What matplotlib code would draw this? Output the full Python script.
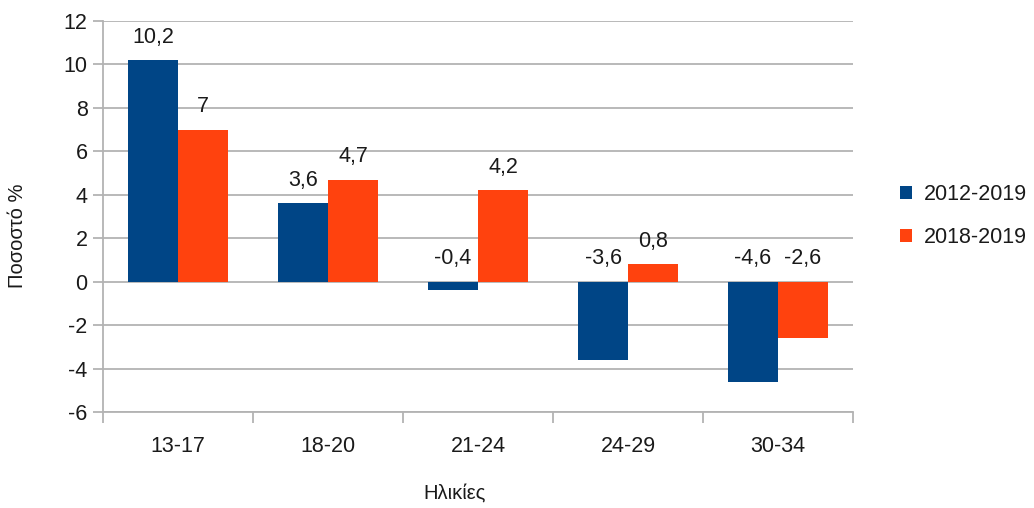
import matplotlib
matplotlib.use("Agg")
import matplotlib.pyplot as plt
import numpy as np

categories = ["13-17", "18-20", "21-24", "24-29", "30-34"]
series_2012_2019 = [10.2, 3.6, -0.4, -3.6, -4.6]
series_2018_2019 = [7.0, 4.7, 4.2, 0.8, -2.6]
series_names = ["2012-2019", "2018-2019"]
yticks = [-6, -4, -2, 0, 2, 4, 6, 8, 10, 12]

plt.rcParams['font.family'] = ['Liberation Sans', 'DejaVu Sans']
plt.rcParams['axes.unicode_minus'] = False
FS = 15.5
grid_c = "#b3b3b3"
colors = ["#004586", "#ff420e"]

fig = plt.figure(figsize=(10.34, 5.08), dpi=100)
ax = fig.add_axes([103/1034, 1-412/508, 750/1034, (412-21)/508])

x = np.arange(len(categories))
w = 1/3
for i, (vals, c, name) in enumerate(zip([series_2012_2019, series_2018_2019], colors, series_names)):
    pos = x + (i - 0.5) * w
    ax.bar(pos, vals, width=w, color=c, label=name, zorder=3)
    for p, v in zip(pos, vals):
        txt = f"{v:g}".replace(".", ",")
        ax.annotate(txt, (p, max(v, 0)), xytext=(0, 9), textcoords="offset points",
                    ha="center", va="bottom", fontsize=FS, color="#1a1a1a")

ax.set_xlim(-0.5, len(categories) - 0.5)
ax.set_ylim(-6, 12)
ax.set_yticks(yticks)
ax.set_yticklabels([str(t) for t in yticks])
ax.yaxis.grid(True, color=grid_c, linewidth=1.3, zorder=0)
ax.set_axisbelow(True)

ax.set_xticks(x)
ax.set_xticklabels(categories)
ax.set_xticks(np.arange(len(categories) + 1) - 0.5, minor=True)
ax.tick_params(axis="x", which="major", length=0, pad=17, labelsize=FS, colors="#1a1a1a")
ax.tick_params(axis="x", which="minor", length=8, width=1.3, color=grid_c)
ax.tick_params(axis="y", length=7, width=1.3, color=grid_c, pad=4, labelsize=FS, labelcolor="#1a1a1a")

for s in ["top", "right"]:
    ax.spines[s].set_visible(False)
for s in ["left", "bottom"]:
    ax.spines[s].set_color(grid_c)
    ax.spines[s].set_linewidth(1.3)

fig.text(18/1034, 1-236/508, "Ποσοστό %", rotation=90, ha="center", va="center", fontsize=FS-1, color="#1a1a1a")
fig.text(455/1034, 1-493/508, "Ηλικίες", ha="center", va="center", fontsize=FS-1, color="#1a1a1a")

leg = fig.legend(loc="center left", bbox_to_anchor=(900/1034, 1-216/508), frameon=False,
                 fontsize=FS, handlelength=0.55, handleheight=0.55, handletextpad=0.55,
                 labelspacing=1.0, borderpad=0, borderaxespad=0)
for t in leg.get_texts():
    t.set_color("#1a1a1a")

fig.savefig("out.png", dpi=100)
